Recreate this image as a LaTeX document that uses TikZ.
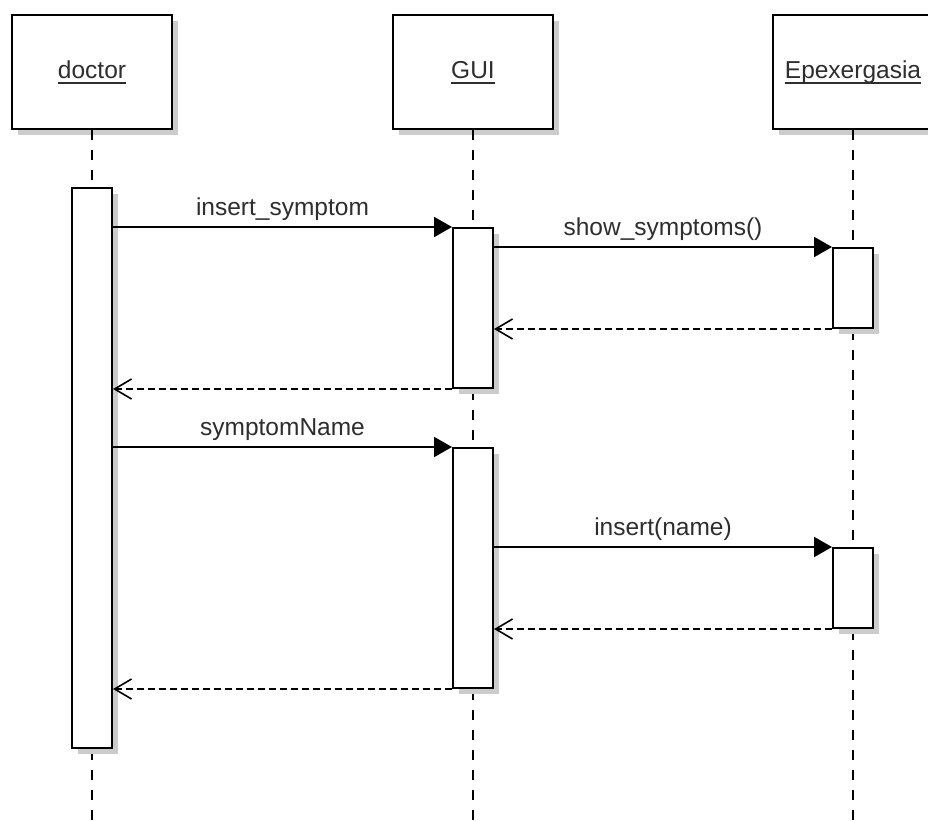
\documentclass[tikz,border=0pt]{standalone}
\usepackage{fontspec}
\setmainfont{Liberation Sans}
\usetikzlibrary{arrows.meta,shadows}
\newcommand\ulabel[1]{\setbox0\hbox{#1}\rlap{\rule[-6pt]{\wd0}{1.8pt}}\box0}
\begin{document}
\begin{tikzpicture}[x=1pt,y=-1pt,
  font=\fontsize{24.5pt}{29pt}\selectfont,
  every node/.style={text=black!82},
  shadowed/.style={drop shadow={shadow xshift=6pt,shadow yshift=-6pt,fill=black!20,opacity=1}},
  head/.style={draw=black, line width=2pt, fill=white, minimum width=160pt, minimum height=114pt,
    inner sep=0pt, text height=18pt, text depth=6pt, shadowed},
  bar/.style={draw=black, line width=2pt, fill=white, minimum width=40pt, inner sep=0pt, shadowed},
  lifeline/.style={draw=black, line width=2pt, dash pattern=on 10pt off 10pt},
  call/.style={draw=black, line width=2pt, -{Triangle[length=18pt,width=20pt]}},
  ret/.style={draw=black, line width=2pt, dash pattern=on 7pt off 4pt,
    -{Straight Barb[length=17pt,width=20pt,line width=1.6pt]}},
  lbl/.style={midway, anchor=base, yshift=12pt, inner sep=0pt}]
\useasboundingbox (0,0) rectangle (928,820);
\clip (0,0) rectangle (928,820);
\fill[white] (0,0) rectangle (928,820);

% heads
\node[head] (doc) at (92,72) {\ulabel{doctor}};
\node[head] (gui) at (473,72) {\ulabel{GUI}};
\node[head] (epx) at (853,72) {\ulabel{Epexergasia}};

% lifelines
\draw[lifeline] (doc.south) -- (doc.south |- 0,820);
\draw[lifeline] (gui.south) -- (gui.south |- 0,820);
\draw[lifeline] (epx.south) -- (epx.south |- 0,820);

% activation bars
\node[bar, minimum height=560pt] (dbar) at (92,468) {};
\node[bar, minimum height=160pt] (gbar1) at (473,308) {};
\node[bar, minimum height=240pt] (gbar2) at (473,568) {};
\node[bar, minimum height=80pt] (ebar1) at (853,288) {};
\node[bar, minimum height=80pt] (ebar2) at (853,588) {};

% messages
\draw[call] (dbar.east |- gbar1.north) -- (gbar1.north west) node[lbl] (m1) {insert\_symptom};
\draw[call] (gbar1.east |- ebar1.north) -- (ebar1.north west) node[lbl] (m2) {show\_symptoms()};
\draw[ret] (ebar1.south west) -- (gbar1.east |- ebar1.south);
\draw[ret] (gbar1.south west) -- (dbar.east |- gbar1.south);
\draw[call] (dbar.east |- gbar2.north) -- (gbar2.north west) node[lbl] (m5) {symptomName};
\draw[call] (gbar2.east |- ebar2.north) -- (ebar2.north west) node[lbl] (m6) {insert(name)};
\draw[ret] (ebar2.south west) -- (gbar2.east |- ebar2.south);
\draw[ret] (gbar2.south west) -- (dbar.east |- gbar2.south);
\end{tikzpicture}
\end{document}
